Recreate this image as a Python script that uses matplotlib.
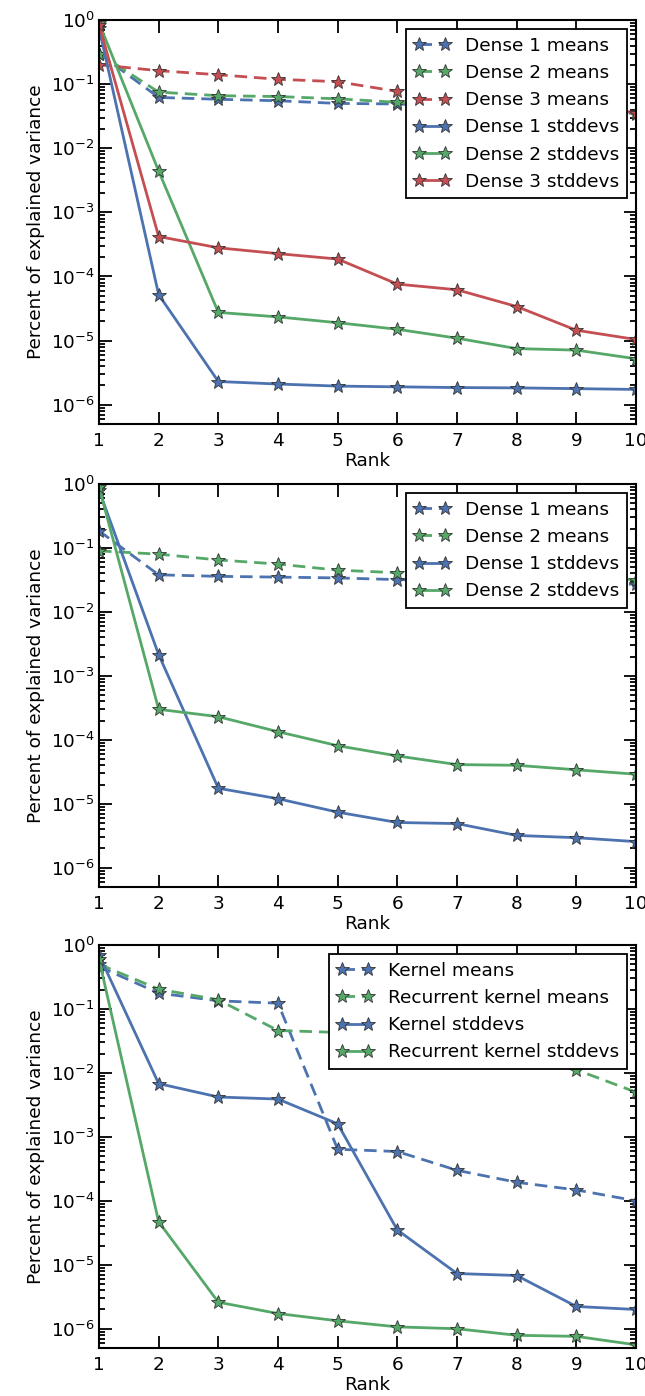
import numpy as np
import matplotlib
matplotlib.use("Agg")
import matplotlib.pyplot as plt
from matplotlib.ticker import LogLocator, LogFormatterSciNotation

# colours (old seaborn "deep")
BLUE = "#4C72B0"
GREEN = "#55A868"
RED = "#C44E52"

rank = np.arange(1, 11)

# panel 1 - three dense layers
dense1_means_a = [0.30, 0.062, 0.058, 0.055, 0.050, 0.049, 0.045, 0.042, 0.038, 0.035]
dense2_means_a = [0.30, 0.075, 0.066, 0.064, 0.059, 0.052, 0.046, 0.042, 0.038, 0.034]
dense3_means_a = [0.20, 0.162, 0.140, 0.119, 0.109, 0.077, 0.065, 0.055, 0.045, 0.036]
dense1_std_a = [0.75, 5.2e-5, 2.3e-6, 2.1e-6, 1.95e-6, 1.9e-6, 1.85e-6, 1.83e-6, 1.78e-6, 1.73e-6]
dense2_std_a = [0.90, 4.4e-3, 2.75e-5, 2.34e-5, 1.9e-5, 1.5e-5, 1.09e-5, 7.5e-6, 7.1e-6, 5.2e-6]
dense3_std_a = [0.85, 4.2e-4, 2.8e-4, 2.27e-4, 1.87e-4, 7.6e-5, 6.2e-5, 3.4e-5, 1.45e-5, 1.04e-5]

# panel 2 - two dense layers
dense1_means_b = [0.185, 0.038, 0.036, 0.035, 0.034, 0.032, 0.031, 0.030, 0.029, 0.027]
dense2_means_b = [0.09, 0.080, 0.065, 0.056, 0.045, 0.041, 0.038, 0.036, 0.034, 0.032]
dense1_std_b = [0.80, 2.15e-3, 1.75e-5, 1.2e-5, 7.4e-6, 5.1e-6, 4.9e-6, 3.2e-6, 2.95e-6, 2.56e-6]
dense2_std_b = [0.90, 3.0e-4, 2.3e-4, 1.34e-4, 8.1e-5, 5.6e-5, 4.1e-5, 4.0e-5, 3.4e-5, 2.9e-5]

# panel 3 - recurrent layer
kernel_means = [0.46, 0.177, 0.134, 0.123, 6.4e-4, 5.9e-4, 3.0e-4, 1.95e-4, 1.48e-4, 1.0e-4]
rec_kernel_means = [0.50, 0.204, 0.139, 0.046, 0.043, 0.035, 0.025, 0.016, 0.0112, 5.0e-3]
kernel_std = [0.70, 6.8e-3, 4.2e-3, 3.9e-3, 1.6e-3, 3.5e-5, 7.3e-6, 6.8e-6, 2.23e-6, 2.0e-6]
rec_kernel_std = [0.60, 4.7e-5, 2.6e-6, 1.73e-6, 1.33e-6, 1.07e-6, 1.0e-6, 7.9e-7, 7.6e-7, 5.6e-7]

panels = [
    [("Dense 1 means", dense1_means_a, BLUE, "--"),
     ("Dense 2 means", dense2_means_a, GREEN, "--"),
     ("Dense 3 means", dense3_means_a, RED, "--"),
     ("Dense 1 stddevs", dense1_std_a, BLUE, "-"),
     ("Dense 2 stddevs", dense2_std_a, GREEN, "-"),
     ("Dense 3 stddevs", dense3_std_a, RED, "-")],
    [("Dense 1 means", dense1_means_b, BLUE, "--"),
     ("Dense 2 means", dense2_means_b, GREEN, "--"),
     ("Dense 1 stddevs", dense1_std_b, BLUE, "-"),
     ("Dense 2 stddevs", dense2_std_b, GREEN, "-")],
    [("Kernel means", kernel_means, BLUE, "--"),
     ("Recurrent kernel means", rec_kernel_means, GREEN, "--"),
     ("Kernel stddevs", kernel_std, BLUE, "-"),
     ("Recurrent kernel stddevs", rec_kernel_std, GREEN, "-")],
]

plt.rcParams["font.family"] = "DejaVu Sans"
plt.rcParams["mathtext.default"] = "regular"

FS = 13.3
W, H = 645, 1396
fig = plt.figure(figsize=(W / 100, H / 100), dpi=100)

# axes boxes in pixels: (top, bottom)
boxes = [(20, 424), (484, 887), (945, 1348)]
left_px, right_px = 99, 636

for (top, bottom), series in zip(boxes, panels):
    ax = fig.add_axes([left_px / W, 1 - bottom / H, (right_px - left_px) / W, (bottom - top) / H])
    for label, vals, col, ls in series:
        line, = ax.plot(rank, vals, ls, color=col, lw=2.0, marker="*", markersize=10,
                        markeredgecolor="#333333", markeredgewidth=0.6, label=label)
        if ls == "--":
            line.set_dashes((4.5, 2.5))
    ax.set_yscale("log")
    ax.set_xlim(1, 10)
    ax.set_ylim(5e-7, 1)
    ax.yaxis.set_major_locator(LogLocator(base=10, numticks=10))
    ax.yaxis.set_minor_locator(LogLocator(base=10, subs=np.arange(2, 10), numticks=10))
    ax.yaxis.set_major_formatter(LogFormatterSciNotation())
    ax.set_xticks(rank)
    ax.tick_params(which="both", direction="in", top=True, right=True, labelsize=FS, width=1.3)
    ax.tick_params(which="major", length=9)
    ax.tick_params(which="minor", length=4.5)
    ax.tick_params(axis="x", which="major", pad=6)
    ax.tick_params(axis="y", which="major", pad=3)
    for sp in ax.spines.values():
        sp.set_linewidth(1.5)
    ax.set_xlabel("Rank", fontsize=FS, labelpad=1)
    ax.set_ylabel("Percent of explained variance", fontsize=FS)
    ax.yaxis.set_label_coords(-0.1, 0.5)
    leg = ax.legend(loc="upper right", fontsize=FS, numpoints=2, fancybox=False,
                    framealpha=1, borderaxespad=0.5, handlelength=2.0, labelspacing=0.5)
    leg.get_frame().set_edgecolor("black")
    leg.get_frame().set_linewidth(1.3)

fig.savefig("out.png", dpi=100)
